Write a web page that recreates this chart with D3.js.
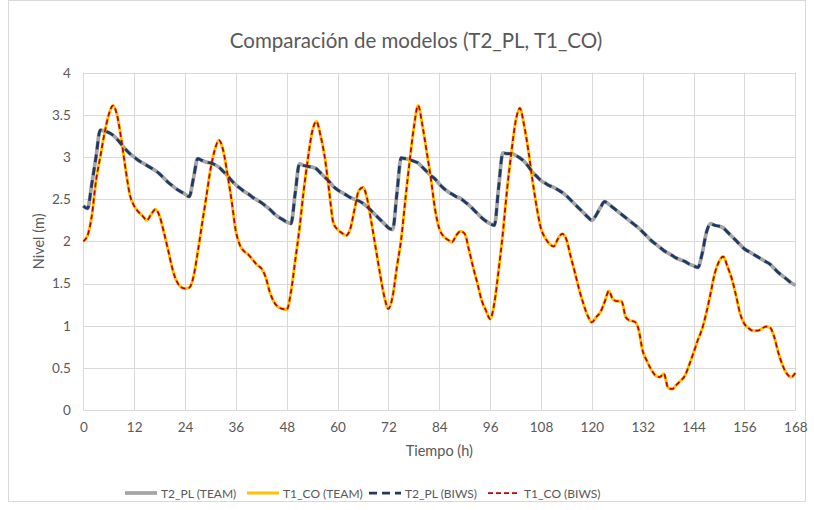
<!DOCTYPE html>
<html>
<head>
<meta charset="utf-8">
<script src="https://cdn.jsdelivr.net/npm/d3@7"></script>
<style>
  html, body { margin: 0; padding: 0; background: #ffffff; }
  svg { display: block; }
  text { font-family: Lato, "Open Sans", sans-serif; fill: #595959; }
</style>
</head>
<body>
<svg id="chart" width="814" height="510"></svg>
<script>
// Hourly water level (m), hour 0 to 168
const hours = d3.range(0, 169);

const t2plTeam = [
  2.42, 2.39, 2.68, 3.00, 3.32, 3.31, 3.29, 3.26, 3.21, 3.15, 3.09, 3.04,
  3.00, 2.96, 2.93, 2.90, 2.87, 2.84, 2.80, 2.75, 2.70, 2.66, 2.62, 2.59,
  2.56, 2.53, 2.75, 2.98, 2.96, 2.94, 2.93, 2.91, 2.88, 2.83, 2.78, 2.72,
  2.67, 2.63, 2.59, 2.56, 2.52, 2.49, 2.46, 2.42, 2.38, 2.33, 2.29, 2.26,
  2.23, 2.21, 2.57, 2.92, 2.90, 2.89, 2.88, 2.86, 2.81, 2.76, 2.71, 2.65,
  2.61, 2.58, 2.55, 2.52, 2.50, 2.48, 2.45, 2.41, 2.36, 2.31, 2.26, 2.21,
  2.16, 2.14, 2.57, 2.99, 2.98, 2.97, 2.95, 2.93, 2.88, 2.83, 2.78, 2.74,
  2.68, 2.63, 2.59, 2.56, 2.53, 2.51, 2.47, 2.43, 2.38, 2.33, 2.28, 2.24,
  2.21, 2.19, 2.64, 3.05, 3.04, 3.04, 3.02, 2.99, 2.95, 2.89, 2.82, 2.77,
  2.72, 2.69, 2.66, 2.64, 2.61, 2.58, 2.54, 2.49, 2.44, 2.39, 2.34, 2.29,
  2.25, 2.31, 2.40, 2.47, 2.44, 2.40, 2.36, 2.32, 2.28, 2.24, 2.20, 2.16,
  2.11, 2.06, 2.01, 1.97, 1.93, 1.89, 1.86, 1.83, 1.80, 1.78, 1.76, 1.73,
  1.71, 1.69, 1.85, 2.10, 2.21, 2.19, 2.18, 2.16, 2.11, 2.06, 2.01, 1.96,
  1.91, 1.88, 1.85, 1.82, 1.79, 1.76, 1.73, 1.68, 1.63, 1.59, 1.55, 1.51,
  1.48
];

const t1coTeam = [
  2.00, 2.07, 2.30, 2.72, 3.00, 3.28, 3.50, 3.61, 3.49, 3.20, 2.85, 2.55,
  2.42, 2.35, 2.30, 2.25, 2.32, 2.38, 2.30, 2.11, 1.90, 1.68, 1.53, 1.46,
  1.44, 1.45, 1.58, 1.87, 2.20, 2.52, 2.85, 3.08, 3.20, 3.08, 2.80, 2.48,
  2.12, 1.95, 1.88, 1.84, 1.78, 1.72, 1.68, 1.58, 1.40, 1.28, 1.22, 1.20,
  1.19, 1.40, 1.77, 2.15, 2.60, 2.98, 3.30, 3.42, 3.25, 2.99, 2.60, 2.22,
  2.14, 2.10, 2.07, 2.15, 2.38, 2.60, 2.64, 2.50, 2.22, 1.92, 1.62, 1.35,
  1.20, 1.35, 1.70, 2.02, 2.50, 2.95, 3.35, 3.61, 3.38, 3.07, 2.75, 2.38,
  2.15, 2.06, 2.02, 1.99, 2.07, 2.12, 2.09, 1.90, 1.69, 1.50, 1.30, 1.18,
  1.08, 1.27, 1.66, 2.10, 2.62, 3.05, 3.42, 3.58, 3.38, 3.08, 2.72, 2.40,
  2.15, 2.04, 1.97, 1.94, 2.03, 2.09, 2.02, 1.82, 1.63, 1.43, 1.26, 1.12,
  1.04, 1.10, 1.16, 1.28, 1.41, 1.31, 1.29, 1.29, 1.10, 1.06, 1.05, 0.96,
  0.70, 0.58, 0.48, 0.41, 0.39, 0.43, 0.26, 0.25, 0.30, 0.35, 0.41, 0.54,
  0.68, 0.83, 0.96, 1.15, 1.38, 1.62, 1.76, 1.82, 1.70, 1.56, 1.36, 1.14,
  1.02, 0.97, 0.94, 0.94, 0.96, 0.99, 0.98, 0.87, 0.68, 0.53, 0.43, 0.39,
  0.44
];

// The BIWS runs reproduce the TEAM levels hour by hour
const t2plBiws = [
  2.42, 2.39, 2.68, 3.00, 3.32, 3.31, 3.29, 3.26, 3.21, 3.15, 3.09, 3.04,
  3.00, 2.96, 2.93, 2.90, 2.87, 2.84, 2.80, 2.75, 2.70, 2.66, 2.62, 2.59,
  2.56, 2.53, 2.75, 2.98, 2.96, 2.94, 2.93, 2.91, 2.88, 2.83, 2.78, 2.72,
  2.67, 2.63, 2.59, 2.56, 2.52, 2.49, 2.46, 2.42, 2.38, 2.33, 2.29, 2.26,
  2.23, 2.21, 2.57, 2.92, 2.90, 2.89, 2.88, 2.86, 2.81, 2.76, 2.71, 2.65,
  2.61, 2.58, 2.55, 2.52, 2.50, 2.48, 2.45, 2.41, 2.36, 2.31, 2.26, 2.21,
  2.16, 2.14, 2.57, 2.99, 2.98, 2.97, 2.95, 2.93, 2.88, 2.83, 2.78, 2.74,
  2.68, 2.63, 2.59, 2.56, 2.53, 2.51, 2.47, 2.43, 2.38, 2.33, 2.28, 2.24,
  2.21, 2.19, 2.64, 3.05, 3.04, 3.04, 3.02, 2.99, 2.95, 2.89, 2.82, 2.77,
  2.72, 2.69, 2.66, 2.64, 2.61, 2.58, 2.54, 2.49, 2.44, 2.39, 2.34, 2.29,
  2.25, 2.31, 2.40, 2.47, 2.44, 2.40, 2.36, 2.32, 2.28, 2.24, 2.20, 2.16,
  2.11, 2.06, 2.01, 1.97, 1.93, 1.89, 1.86, 1.83, 1.80, 1.78, 1.76, 1.73,
  1.71, 1.69, 1.85, 2.10, 2.21, 2.19, 2.18, 2.16, 2.11, 2.06, 2.01, 1.96,
  1.91, 1.88, 1.85, 1.82, 1.79, 1.76, 1.73, 1.68, 1.63, 1.59, 1.55, 1.51,
  1.48
];

const t1coBiws = [
  2.00, 2.07, 2.30, 2.72, 3.00, 3.28, 3.50, 3.61, 3.49, 3.20, 2.85, 2.55,
  2.42, 2.35, 2.30, 2.25, 2.32, 2.38, 2.30, 2.11, 1.90, 1.68, 1.53, 1.46,
  1.44, 1.45, 1.58, 1.87, 2.20, 2.52, 2.85, 3.08, 3.20, 3.08, 2.80, 2.48,
  2.12, 1.95, 1.88, 1.84, 1.78, 1.72, 1.68, 1.58, 1.40, 1.28, 1.22, 1.20,
  1.19, 1.40, 1.77, 2.15, 2.60, 2.98, 3.30, 3.42, 3.25, 2.99, 2.60, 2.22,
  2.14, 2.10, 2.07, 2.15, 2.38, 2.60, 2.64, 2.50, 2.22, 1.92, 1.62, 1.35,
  1.20, 1.35, 1.70, 2.02, 2.50, 2.95, 3.35, 3.61, 3.38, 3.07, 2.75, 2.38,
  2.15, 2.06, 2.02, 1.99, 2.07, 2.12, 2.09, 1.90, 1.69, 1.50, 1.30, 1.18,
  1.08, 1.27, 1.66, 2.10, 2.62, 3.05, 3.42, 3.58, 3.38, 3.08, 2.72, 2.40,
  2.15, 2.04, 1.97, 1.94, 2.03, 2.09, 2.02, 1.82, 1.63, 1.43, 1.26, 1.12,
  1.04, 1.10, 1.16, 1.28, 1.41, 1.31, 1.29, 1.29, 1.10, 1.06, 1.05, 0.96,
  0.70, 0.58, 0.48, 0.41, 0.39, 0.43, 0.26, 0.25, 0.30, 0.35, 0.41, 0.54,
  0.68, 0.83, 0.96, 1.15, 1.38, 1.62, 1.76, 1.82, 1.70, 1.56, 1.36, 1.14,
  1.02, 0.97, 0.94, 0.94, 0.96, 0.99, 0.98, 0.87, 0.68, 0.53, 0.43, 0.39,
  0.44
];

const xTicks = [0, 12, 24, 36, 48, 60, 72, 84, 96, 108, 120, 132, 144, 156, 168];
const yTicks = [0, 0.5, 1, 1.5, 2, 2.5, 3, 3.5, 4];

const seriesNames = ["T2_PL (TEAM)", "T1_CO (TEAM)", "T2_PL (BIWS)", "T1_CO (BIWS)"];
const seriesValues = [t2plTeam, t1coTeam, t2plBiws, t1coBiws];
const seriesStyles = [
  { color: "#a5a5a5", width: 3.75, dash: null },
  { color: "#ffc000", width: 3, dash: null },
  { color: "#1f3864", width: 2.75, dash: "8,5" },
  { color: "#c00000", width: 1.75, dash: "5,3" }
];

const svg = d3.select("#chart");
const W = 814, H = 510;
const margin = { left: 83.3, right: W - 795.3, top: 72.7, bottom: H - 410 };

// chart frame
svg.append("rect")
  .attr("x", 8.5).attr("y", 0.5)
  .attr("width", W - 17).attr("height", H - 9)
  .attr("fill", "#ffffff").attr("stroke", "#d9d9d9").attr("stroke-width", 1);

const x = d3.scaleLinear().domain([0, 168]).range([margin.left, W - margin.right]);
const y = d3.scaleLinear().domain([0, 4]).range([H - margin.bottom, margin.top]);

// gridlines
const grid = svg.append("g");
grid.selectAll("line.h").data(yTicks).join("line")
  .attr("x1", x(0)).attr("x2", x(168))
  .attr("y1", d => Math.round(y(d)) + 0.5).attr("y2", d => Math.round(y(d)) + 0.5)
  .attr("stroke", "#d9d9d9").attr("stroke-width", 1);
grid.selectAll("line.v").data(xTicks).join("line")
  .attr("x1", d => Math.round(x(d)) + 0.5).attr("x2", d => Math.round(x(d)) + 0.5)
  .attr("y1", y(4)).attr("y2", y(0))
  .attr("stroke", "#d9d9d9").attr("stroke-width", 1);

// axes (labels only, lines come from the grid)
const yAxis = svg.append("g")
  .attr("transform", `translate(${x(0) - 12.5},0)`)
  .call(d3.axisLeft(y).tickValues(yTicks).tickSize(0).tickFormat(d3.format("")));
yAxis.select(".domain").remove();
yAxis.selectAll("text")
  .attr("x", 0)
  .style("font-family", "Lato, 'Open Sans', sans-serif")
  .style("font-size", "13.5px").attr("fill", "#595959");

const xAxis = svg.append("g")
  .attr("transform", `translate(0,${y(0) + 9})`)
  .call(d3.axisBottom(x).tickValues(xTicks).tickSize(0).tickFormat(d3.format("d")));
xAxis.select(".domain").remove();
xAxis.selectAll("text")
  .style("font-family", "Lato, 'Open Sans', sans-serif")
  .style("font-size", "13.5px").attr("fill", "#595959");

// series
const line = d3.line()
  .x((d, i) => x(hours[i]))
  .y(d => y(d))
  .curve(d3.curveMonotoneX);

seriesValues.forEach((vals, k) => {
  const s = seriesStyles[k];
  svg.append("path")
    .datum(vals)
    .attr("d", line)
    .attr("fill", "none")
    .attr("stroke", s.color)
    .attr("stroke-width", s.width)
    .attr("stroke-dasharray", s.dash)
    .attr("stroke-linejoin", "round");
});

// title and axis titles
svg.append("text")
  .attr("x", 416).attr("y", 48)
  .attr("text-anchor", "middle")
  .style("font-size", "20.5px")
  .text("Comparación de modelos (T2_PL, T1_CO)");

svg.append("text")
  .attr("transform", `translate(44,${(y(0) + y(4)) / 2}) rotate(-90)`)
  .attr("text-anchor", "middle")
  .style("font-size", "14.5px")
  .text("Nivel (m)");

svg.append("text")
  .attr("x", (x(0) + x(168)) / 2).attr("y", 456)
  .attr("text-anchor", "middle")
  .style("font-size", "14.5px")
  .text("Tiempo (h)");

// legend
const legendX = [125, 247, 369, 488];
const legend = svg.append("g");
seriesNames.forEach((name, k) => {
  const s = seriesStyles[k];
  const g = legend.append("g").attr("transform", `translate(${legendX[k]},493)`);
  g.append("line")
    .attr("x1", 0).attr("x2", 32).attr("y1", 0).attr("y2", 0)
    .attr("stroke", s.color).attr("stroke-width", s.width)
    .attr("stroke-dasharray", s.dash);
  g.append("text")
    .attr("x", 36).attr("y", 4.5)
    .style("font-size", "12px")
    .text(name);
});
</script>
</body>
</html>
